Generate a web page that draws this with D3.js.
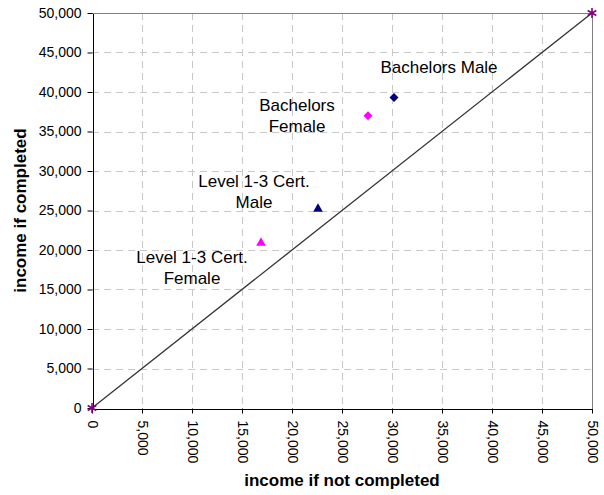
<!DOCTYPE html>
<html>
<head>
<meta charset="utf-8">
<script src="https://cdn.jsdelivr.net/npm/d3@7"></script>
<style>
  html, body { margin: 0; padding: 0; background: #fff; }
  svg { display: block; font-family: "Liberation Sans", Arial, sans-serif; }
</style>
</head>
<body>
<svg id="chart" width="604" height="495"></svg>
<script>
// Income if not completed (x) vs income if completed (y)
const groups    = ["Bachelors Male", "Bachelors Female", "Level 1-3 Cert. Male", "Level 1-3 Cert. Female"];
const labelText = [["Bachelors Male"], ["Bachelors", "Female"], ["Level 1-3 Cert.", "Male"], ["Level 1-3 Cert.", "Female"]];
const notCompleted = [30200, 27600, 22600, 16900];
const completed    = [39300, 37000, 25200, 20900];
const markerShape  = ["diamond", "diamond", "triangle", "triangle"];
const markerColor  = ["#000080", "#ff00ff", "#000080", "#ff00ff"];

// reference line of equal incomes
const equalLineX = [0, 50000];
const equalLineY = [0, 50000];

const tickValues = [0, 5000, 10000, 15000, 20000, 25000, 30000, 35000, 40000, 45000, 50000];

// label placement relative to each marker (pixels)
const labelOffset = [[45, -25], [-71, -4.5], [-64, -21.5], [-69, 20.5]];
const lineGap = 20.5;

const svg = d3.select("#chart");
const plotL = 92, plotR = 592, plotT = 13, plotB = 408;

const x = d3.scaleLinear().domain([0, 50000]).range([plotL, plotR]);
const y = d3.scaleLinear().domain([0, 50000]).range([plotB, plotT]);
const fmt = d3.format(",");

// dashed grid
const inner = tickValues.filter(v => v > 0 && v < 50000);
const grid = svg.append("g").attr("stroke", "#c8c8c8").attr("stroke-width", 1)
  .attr("stroke-dasharray", "7,5").attr("shape-rendering", "crispEdges");
grid.selectAll("line.h").data(inner).join("line").attr("class", "h")
  .attr("x1", plotL).attr("x2", plotR)
  .attr("y1", d => Math.round(y(d)) + 0.5).attr("y2", d => Math.round(y(d)) + 0.5);
grid.selectAll("line.v").data(inner).join("line").attr("class", "v")
  .attr("y1", plotT).attr("y2", plotB)
  .attr("x1", d => Math.round(x(d)) + 0.5).attr("x2", d => Math.round(x(d)) + 0.5);

// plot frame (top and right)
svg.append("path")
  .attr("d", `M${plotL},${plotT + 0.5}H${plotR + 0.5}V${plotB}`)
  .attr("fill", "none").attr("stroke", "#808080").attr("stroke-width", 1)
  .attr("shape-rendering", "crispEdges");

// y axis
const yAxis = svg.append("g").attr("transform", `translate(${plotL + 0.5},0)`)
  .call(d3.axisLeft(y).tickValues(tickValues).tickFormat(fmt).tickSize(5).tickPadding(6).tickSizeOuter(0));
yAxis.select(".domain").attr("stroke", "#000").attr("shape-rendering", "crispEdges");
yAxis.selectAll(".tick line").attr("stroke", "#000");
yAxis.selectAll(".tick text").attr("font-size", 14).attr("fill", "#000")
  .attr("font-family", '"Liberation Sans", Arial, sans-serif');

// x axis, labels rotated downwards
const xAxis = svg.append("g").attr("transform", `translate(0,${plotB + 0.5})`)
  .call(d3.axisBottom(x).tickValues(tickValues).tickFormat(fmt).tickSize(5).tickPadding(6).tickSizeOuter(0));
xAxis.select(".domain").attr("stroke", "#000").attr("shape-rendering", "crispEdges");
xAxis.selectAll(".tick line").attr("stroke", "#000");
xAxis.selectAll(".tick text")
  .attr("font-size", 14).attr("fill", "#000")
  .attr("font-family", '"Liberation Sans", Arial, sans-serif')
  .attr("text-anchor", "start")
  .attr("x", 0).attr("y", 0).attr("dy", "0.35em")
  .attr("transform", "translate(0,12) rotate(90)");

// equal-income line
const lineData = equalLineX.map((v, i) => [v, equalLineY[i]]);
svg.append("path")
  .datum(lineData)
  .attr("d", d3.line().x(d => x(d[0])).y(d => y(d[1])))
  .attr("fill", "none").attr("stroke", "#333").attr("stroke-width", 1.3);
svg.selectAll("path.end").data(lineData).join("path")
  .attr("class", "end")
  .attr("transform", d => `translate(${x(d[0])},${y(d[1])})`)
  .attr("d", d3.symbol(d3.symbolAsterisk, 70))
  .attr("fill", "none").attr("stroke", "#800080").attr("stroke-width", 1.6);

// markers: square diamonds and triangles
const pts = groups.map((g, i) => ({
  name: g, x: notCompleted[i], y: completed[i], shape: markerShape[i],
  color: markerColor[i], lines: labelText[i], off: labelOffset[i]
}));
svg.selectAll("path.pt").data(pts).join("path")
  .attr("class", "pt")
  .attr("transform", d => `translate(${x(d.x)},${y(d.y)})` + (d.shape === "diamond" ? " rotate(45)" : ""))
  .attr("d", d => d.shape === "diamond"
    ? d3.symbol(d3.symbolSquare, 40)()
    : d3.symbol(d3.symbolTriangle, 40)())
  .attr("fill", d => d.color);

// point labels
const lab = svg.selectAll("text.lab").data(pts).join("text")
  .attr("class", "lab")
  .attr("font-size", 17).attr("fill", "#000").attr("text-anchor", "middle");
lab.each(function(d) {
  const t = d3.select(this);
  d.lines.forEach((ln, k) => {
    t.append("tspan")
      .attr("x", x(d.x) + d.off[0])
      .attr("y", y(d.y) + d.off[1] + k * lineGap)
      .text(ln);
  });
});

// axis titles
svg.append("text")
  .attr("x", (plotL + plotR) / 2).attr("y", 486)
  .attr("text-anchor", "middle").attr("font-size", 17).attr("font-weight", "bold")
  .text("income if not completed");
svg.append("text")
  .attr("transform", `translate(25.5,${(plotT + plotB) / 2}) rotate(-90)`)
  .attr("text-anchor", "middle").attr("font-size", 17).attr("font-weight", "bold")
  .text("income if completed");
</script>
</body>
</html>
